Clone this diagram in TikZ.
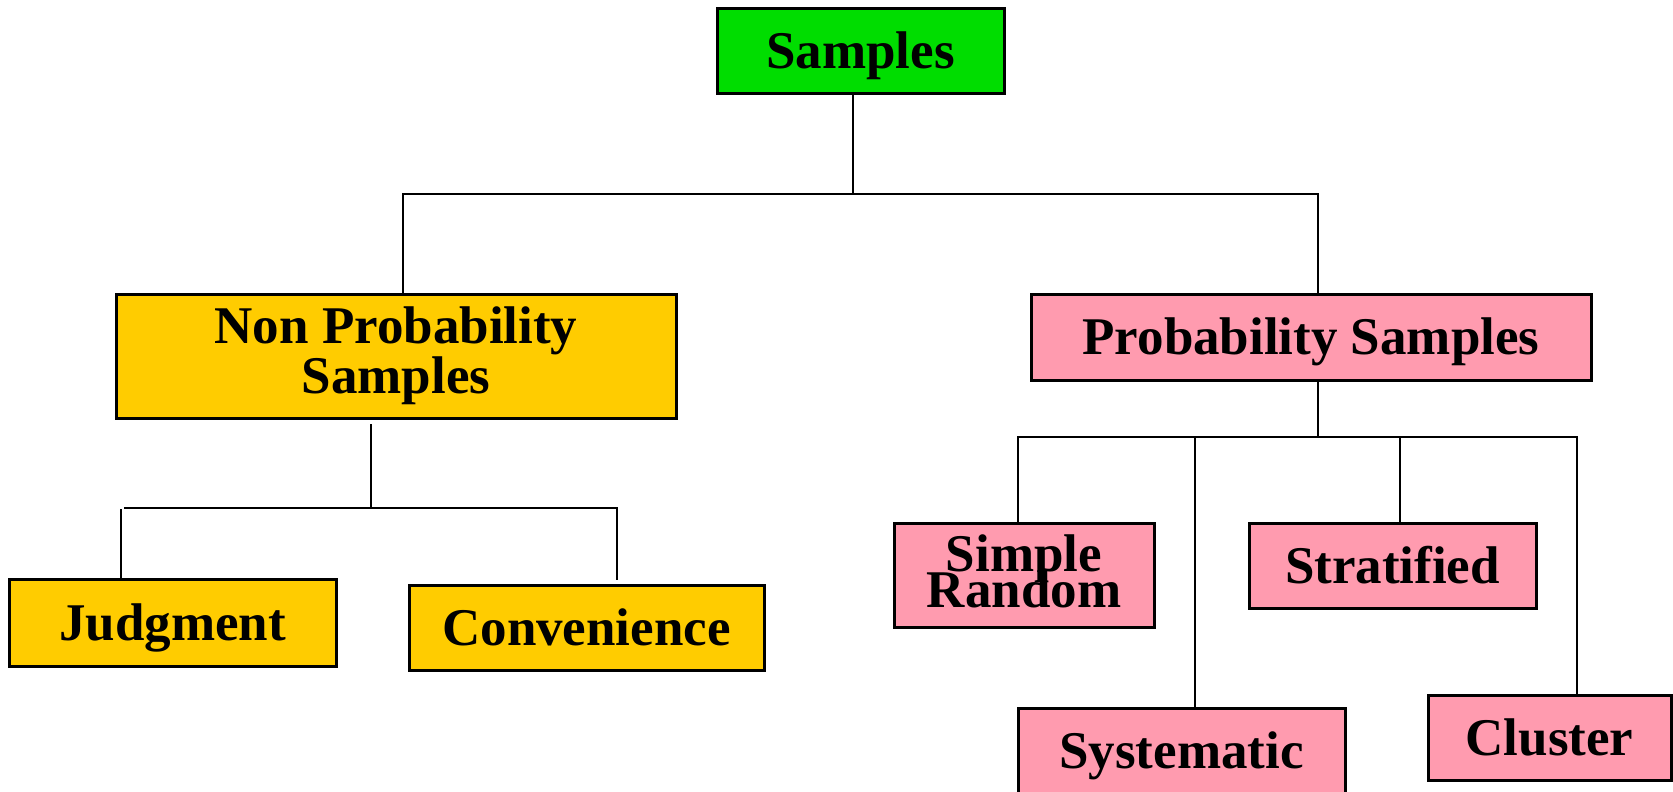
\documentclass[tikz,border=0pt]{standalone}
\usepackage{fontspec}
\setmainfont{Liberation Serif}
\definecolor{boxgreen}{RGB}{0,221,0}
\definecolor{boxgold}{RGB}{255,204,0}
\definecolor{boxpink}{RGB}{255,155,175}
\newcommand\tightlines{\lineskiplimit=-100pt\relax}
\begin{document}
\begin{tikzpicture}[x=1pt,y=-1pt,
  box/.style={draw=black, line width=3pt, inner sep=0pt, align=center,
    font=\bfseries\fontsize{53}{50}\selectfont},
  oneline/.style={text height=36pt, text depth=1pt},
  link/.style={line width=2pt, line cap=rect}]
  \useasboundingbox (0,0) rectangle (1673,792);
  \clip (0,0) rectangle (1673,792);

  % root
  \node[box, fill=boxgreen, oneline, minimum width=287pt, minimum height=84pt]
    (samples) at (860.5,51) {Samples};

  % second level
  \node[box, fill=boxgold, minimum width=560pt, minimum height=124pt]
    (nonprob) at (396,356) {\raisebox{0pt}[36pt][0pt]{Non Probability}\\Samples};
  \node[box, fill=boxpink, oneline, minimum width=560pt, minimum height=86pt]
    (prob) at (1311,337) {Probability Samples};

  % non probability methods
  \node[box, fill=boxgold, oneline, minimum width=327pt, minimum height=87pt]
    (judg) at (172.5,622.5) {Judgment};
  \node[box, fill=boxgold, oneline, minimum width=355pt, minimum height=85pt]
    (conv) at (586.5,627.5) {Convenience};

  % probability methods
  \node[box, fill=boxpink, minimum width=260pt, minimum height=104pt]
    (simple) at (1024,575) {};
  \node[font={\bfseries\fontsize{53}{36}\selectfont\tightlines},
    align=center, inner sep=0pt, yshift=4pt]
    (simpletext) at (simple.center) {Simple\\Random};
  \node[box, fill=boxpink, oneline, minimum width=287pt, minimum height=85pt]
    (strat) at (1392.5,565.5) {Stratified};
  \node[box, fill=boxpink, oneline, minimum width=327pt, minimum height=85pt]
    (syst) at (1181.5,750.5) {Systematic};
  \node[box, fill=boxpink, oneline, minimum width=243pt, minimum height=85pt]
    (clust) at (1549.5,737.5) {Cluster};

  % root to second level
  \coordinate (top) at (853,194);
  \coordinate (tl) at (403,194);
  \coordinate (tr) at (1318,194);
  \draw[link] (samples.south -| top) -- (top);
  \draw[link] (nonprob.north -| tl) -- (tl) -- (tr) -- (prob.north -| tr);

  % non probability branch
  \coordinate (n0) at (371,425);
  \coordinate (n1) at (371,508);
  \coordinate (nl) at (125,508);
  \coordinate (nr) at (617,508);
  \coordinate (ne) at (617,579);
  \coordinate (jl) at (121,510);
  \draw[link] (n0) -- (n1);
  \draw[link] (nl) -- (nr) -- (ne);
  \draw[link] (jl) -- (judg.north -| jl);

  % probability branch
  \coordinate (p1) at (1318,437);
  \coordinate (h1) at (1018,437);
  \coordinate (h2) at (1195,437);
  \coordinate (h3) at (1400,437);
  \coordinate (h4) at (1577,437);
  \draw[link] (prob.south -| p1) -- (p1);
  \draw[link] (simple.north -| h1) -- (h1) -- (h4) -- (clust.north -| h4);
  \draw[link] (h2) -- (syst.north -| h2);
  \draw[link] (h3) -- (strat.north -| h3);
\end{tikzpicture}
\end{document}
